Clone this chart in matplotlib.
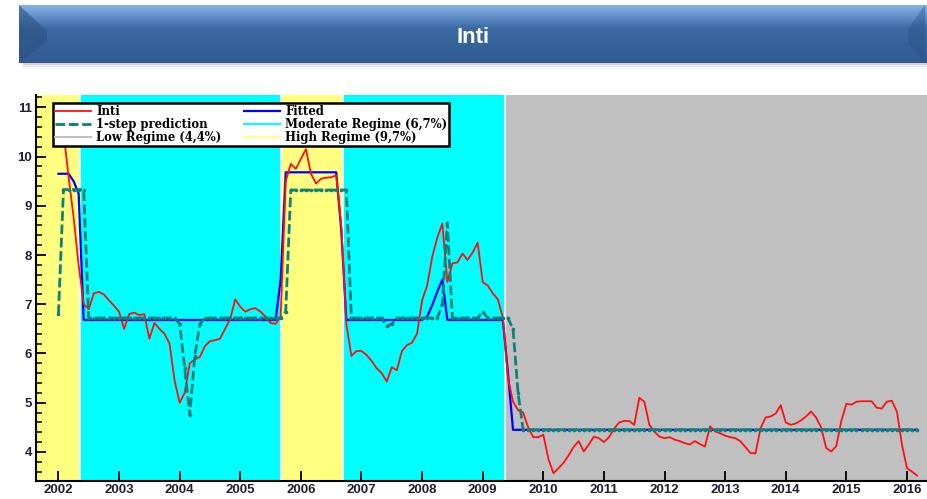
import numpy as np
import matplotlib
matplotlib.use("Agg")
import matplotlib.pyplot as plt
from matplotlib.lines import Line2D
from matplotlib.patches import Polygon, Rectangle

# ---------------- data (monthly, Jan 2002 .. Mar 2016) ----------------
start_year = 2002
inti = [
    11.05, 10.5, 9.6, 8.77, 7.8, 7.0, 6.9, 7.22, 7.25, 7.2,
    7.08, 6.97, 6.85, 6.5, 6.8, 6.83, 6.78, 6.8, 6.3, 6.62,
    6.5, 6.4, 6.2, 5.45, 5.0, 5.2, 5.8, 5.88, 5.93, 6.15,
    6.25, 6.27, 6.3, 6.5, 6.7, 7.1, 6.95, 6.85, 6.9, 6.92,
    6.85, 6.75, 6.62, 6.6, 6.75, 9.5, 9.85, 9.75, 9.95, 10.15,
    9.65, 9.45, 9.55, 9.57, 9.58, 9.62, 8.6, 6.6, 5.95, 6.05,
    6.05, 5.97, 5.85, 5.7, 5.6, 5.43, 5.72, 5.66, 6.05, 6.17,
    6.22, 6.4, 7.08, 7.38, 7.96, 8.35, 8.64, 7.45, 7.83, 7.85,
    8.03, 7.9, 8.05, 8.25, 7.45, 7.38, 7.22, 7.1, 6.72, 5.5,
    5.02, 4.85, 4.8, 4.5, 4.3, 4.3, 4.35, 3.86, 3.57, 3.67,
    3.78, 3.93, 4.1, 4.22, 4.01, 4.15, 4.31, 4.28, 4.2, 4.3,
    4.47, 4.6, 4.63, 4.63, 4.55, 5.1, 5.02, 4.55, 4.41, 4.31,
    4.28, 4.3, 4.25, 4.22, 4.18, 4.15, 4.22, 4.16, 4.11, 4.52,
    4.42, 4.38, 4.33, 4.3, 4.28, 4.22, 4.1, 3.98, 3.97, 4.48,
    4.7, 4.72, 4.78, 4.95, 4.6, 4.55, 4.58, 4.64, 4.72, 4.82,
    4.7, 4.5, 4.08, 4.01, 4.12, 4.63, 4.98, 4.96, 5.02, 5.03,
    5.03, 5.03, 4.9, 4.88, 5.02, 5.04, 4.82, 4.15, 3.67, 3.6,
    3.52,
]
fitted = ([9.65] * 3 + [9.5, 9.25] + [6.68] * 39 + [7.5] + [9.68] * 11 + [8.5]
          + [6.68] * 16 + [6.75, 6.98, 7.25, 7.5] + [6.68] * 12 + [5.6] + [4.45] * 81)
pred_1step = ([6.8] + [9.33] * 5 + [6.72] * 18 + [6.6, 5.7, 4.75, 5.95, 6.6]
              + [6.72] * 16 + [6.85] + [9.32] * 12 + [6.72] * 7 + [6.55, 6.6]
              + [6.72] * 9 + [7.0, 8.65] + [6.72] * 6 + [6.85] + [6.72] * 5
              + [6.5, 5.2] + [4.45] * 79)

# regime periods (decimal years) and names
regime_names = ["High", "Moderate", "High", "Moderate", "Low"]
regime_edges = [2001.5, 2002.36, 2005.68, 2006.69, 2009.37, 2016.5]
regime_labels = {"Low": "Low Regime (4,4%)", "Moderate": "Moderate Regime (6,7%)",
                 "High": "High Regime (9,7%)"}
regime_colors = {"Low": "#c0c0c0", "Moderate": "#00ffff", "High": "#ffff80"}

year_ticks = list(range(2002, 2017))
y_ticks = [4, 5, 6, 7, 8, 9, 10, 11]
title = "Inti"

t = start_year + np.arange(len(inti)) / 12.0

# ---------------- figure ----------------
W, H = 927, 499
fig = plt.figure(figsize=(W / 100, H / 100), dpi=100)
fig.patch.set_facecolor("white")

# title banner
bax = fig.add_axes([0, 0, 1, 1], zorder=5)
bax.set_xlim(0, W)
bax.set_ylim(H, 0)
bax.axis("off")
bax.patch.set_alpha(0)
x0b, x1b, y0b, y1b = 19, 945, 5, 63
# shadow
for i, a in enumerate([0.12, 0.08, 0.04]):
    bax.add_patch(Rectangle((x0b + 4, y1b), x1b - x0b, 2 + 2 * i, color="#404040",
                            alpha=a, lw=0))
cols_top = np.array([0x86, 0xb2, 0xe8]) / 255
cols_mid = np.array([0x3c, 0x6a, 0xa4]) / 255
cols_bot = np.array([0x30, 0x5a, 0x90]) / 255
img = np.zeros((64, 1, 3))
for k in range(64):
    f = k / 63
    if f < 0.4:
        c = cols_top + (cols_mid - cols_top) * (f / 0.4)
    else:
        c = cols_mid + (cols_bot - cols_mid) * ((f - 0.4) / 0.6)
    img[k, 0] = c
bax.imshow(img, extent=[x0b, x1b, y1b, y0b], aspect="auto", zorder=1)
# bevel facets
bax.add_patch(Polygon([[x0b, y0b], [x0b + 28, y0b + 26], [x0b + 28, y1b - 22], [x0b, y1b]],
                      closed=True, color="#2a5283", alpha=0.6, lw=0, zorder=2))
bax.add_patch(Polygon([[x1b - 20, y0b], [908, y0b + 24], [908, y1b - 20], [x1b - 20, y1b]],
                      closed=True, color="#2a5283", alpha=0.4, lw=0, zorder=2))
bax.text(473, 37, title, color="white", fontsize=16, fontweight="bold",
         ha="center", va="center", family="Liberation Sans", zorder=3)

# main axes
L, R, T, B = 36, 927, 95, 481
ax = fig.add_axes([L / W, 1 - B / H, (R - L) / W, (B - T) / H])
ax.set_xlim(2001.63, 2016.33)
ax.set_ylim(3.41, 11.25)

for i, name in enumerate(regime_names):
    ax.axvspan(regime_edges[i], regime_edges[i + 1], color=regime_colors[name],
               lw=0, zorder=0)
for e in regime_edges[1:-1]:
    ax.axvline(e, color="white", lw=1.2, zorder=0.5)

ax.plot(t, inti, color="#ff1010", lw=1.3, zorder=3)
ax.plot(t, fitted, color="#0000ff", lw=1.6, zorder=2)
ax.plot(t, pred_1step, color="#108078", lw=2.0, ls=(0, (3.5, 1.3)), marker=".",
        markersize=3.2, zorder=4)

ax.set_xticks(year_ticks)
ax.set_xticklabels([str(y) for y in year_ticks])
ax.set_yticks(y_ticks)
ax.set_yticks(np.arange(3.6, 11.21, 0.2), minor=True)
ax.tick_params(axis="both", direction="in", width=1.3, length=7, color="black",
               labelsize=9.5, pad=3)
ax.tick_params(axis="y", which="minor", direction="in", length=4, width=1.1)
ax.tick_params(axis="x", pad=2)
for lab in ax.get_xticklabels() + ax.get_yticklabels():
    lab.set_fontweight("bold")
    lab.set_family("Liberation Sans")
    lab.set_color("#202030")
for s in ["top", "right"]:
    ax.spines[s].set_visible(False)
for s in ["left", "bottom"]:
    ax.spines[s].set_linewidth(1.5)

handles = [
    Line2D([], [], color="#ff1010", lw=1.3),
    Line2D([], [], color="#108078", lw=2.0, ls=(0, (3.5, 1.3)), marker=".", markersize=3.2),
    Line2D([], [], color=regime_colors["Low"], lw=1.5),
    Line2D([], [], color="#0000ff", lw=1.6),
    Line2D([], [], color=regime_colors["Moderate"], lw=1.5),
    Line2D([], [], color=regime_colors["High"], lw=1.5),
]
labels = ["Inti", "1-step prediction", regime_labels["Low"], "Fitted",
          regime_labels["Moderate"], regime_labels["High"]]
leg = ax.legend(handles, labels, ncol=2, loc="upper left",
                bbox_to_anchor=((53 - L) / (R - L), (B - 103) / (B - T)),
                prop={"family": "DejaVu Serif", "weight": "bold", "size": 8.4},
                frameon=True, fancybox=False, framealpha=1, edgecolor="black",
                borderpad=0.15, labelspacing=0.0, handlelength=3.1,
                handletextpad=0.45, columnspacing=1.9, borderaxespad=0)
leg.get_frame().set_linewidth(1.8)
leg.set_zorder(10)

fig.savefig("out.png", dpi=100, facecolor="white")
